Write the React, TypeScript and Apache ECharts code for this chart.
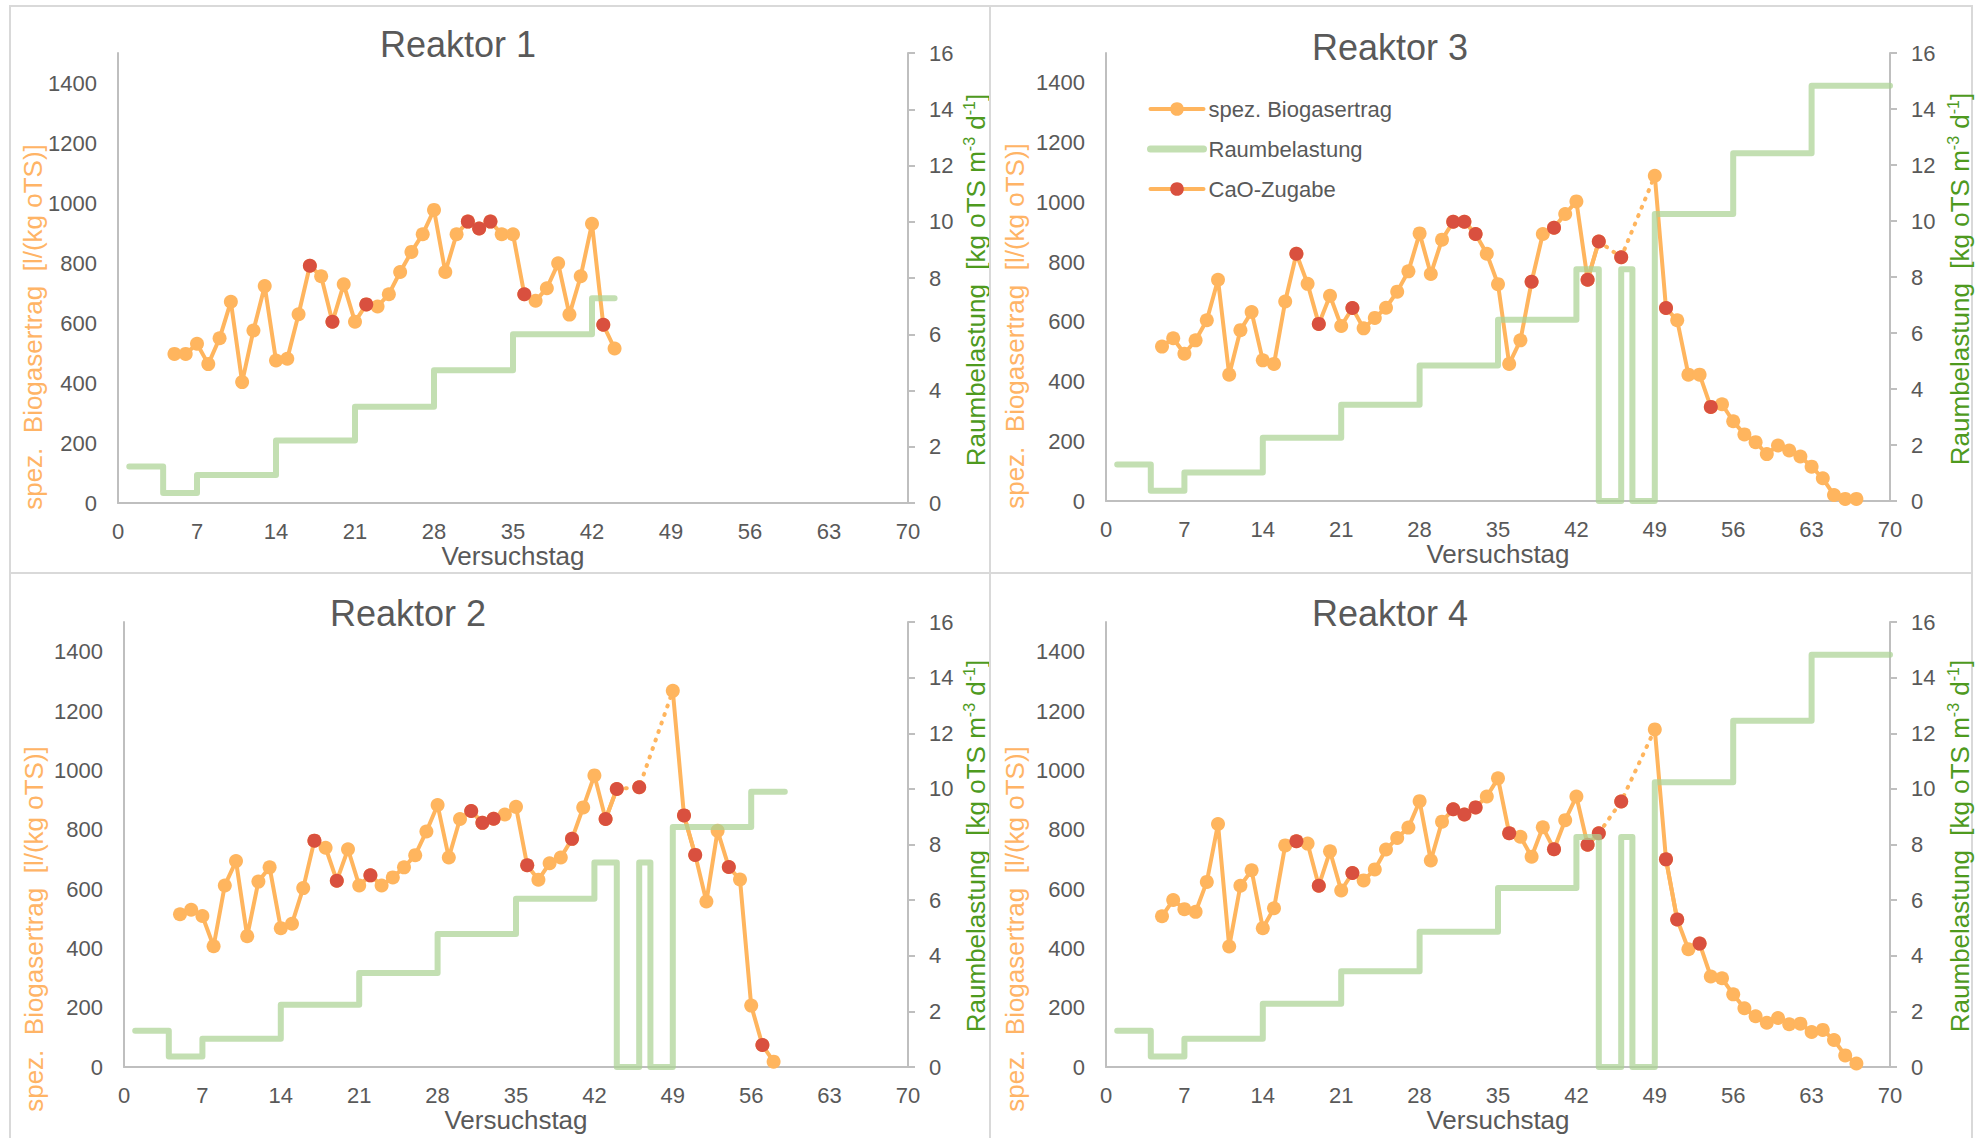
import React, { useEffect, useRef } from "react";
import * as echarts from "echarts";

// ---------------- data ----------------
const FIRST_DAY = 5;
const legendNames = ["spez. Biogasertrag", "Raumbelastung", "CaO-Zugabe"];
const xAxisName = "Versuchstag";
const leftAxisName = "spez.  Biogasertrag  [l/(kg oTS)]";

// spez. Biogasertrag [l/(kg oTS)] from day 5 on (null = no value)
const r1Biogas = [497, 497, 531, 463, 549, 671, 403, 575, 723, 475, 481, 629, 791, 756, 604, 729, 604, 662, 655, 696, 770, 837, 896, 977, 770, 896, 938, 915, 938, 896, 896, 696, 674, 716, 799, 628, 756, 931, 594, 515];
const r2Biogas = [515, 530, 509, 407, 612, 694, 441, 625, 673, 468, 483, 603, 763, 739, 628, 734, 612, 646, 612, 639, 673, 714, 794, 883, 706, 836, 863, 823, 837, 851, 877, 680, 631, 687, 706, 769, 875, 983, 836, 937, null, 943, null, null, 1268, 848, 715, 558, 796, 674, 632, 207, 74, 18];
const r3Biogas = [517, 545, 493, 538, 605, 741, 423, 572, 633, 471, 459, 668, 828, 727, 593, 687, 586, 646, 578, 613, 647, 701, 769, 896, 760, 875, 935, 935, 894, 828, 726, 459, 538, 734, 894, 915, 961, 1003, 741, 869, null, 816, null, null, 1089, 646, 605, 423, 423, 315, 324, 267, 223, 197, 157, 186, 169, 149, 115, 76, 20, 7, 7];
const r4Biogas = [508, 563, 532, 523, 624, 819, 406, 611, 663, 468, 535, 747, 761, 753, 611, 727, 595, 654, 629, 666, 733, 772, 807, 896, 696, 827, 869, 851, 875, 912, 973, 788, 776, 709, 808, 734, 832, 912, 749, 788, null, 895, null, null, 1138, 700, 497, 397, 416, 305, 299, 245, 198, 171, 149, 165, 144, 146, 118, 125, 91, 39, 12];

// days with CaO addition
const r1CaO = [17, 19, 22, 31, 32, 33, 36, 43];
const r2CaO = [17, 19, 22, 31, 32, 33, 36, 40, 43, 44, 46, 50, 51, 54, 57];
const r3CaO = [17, 19, 22, 31, 32, 33, 38, 40, 43, 44, 46, 50, 54];
const r4CaO = [17, 19, 22, 31, 32, 33, 36, 40, 43, 44, 46, 50, 51, 53];

// Raumbelastung [kg oTS m-3 d-1] : change days and levels
const r1LoadDays = [1, 4, 7, 14, 21, 28, 35, 42, 44];
const r1Load = [1.3, 0.36, 1.0, 2.22, 3.42, 4.72, 6.0, 7.28, 7.28];
const r2LoadDays = [1, 4, 7, 14, 21, 28, 35, 42, 44, 46, 47, 49, 56, 59];
const r2Load = [1.3, 0.38, 1.02, 2.24, 3.38, 4.78, 6.05, 7.35, 0, 7.35, 0, 8.63, 9.9, 9.9];
const r3LoadDays = [1, 4, 7, 14, 21, 28, 35, 42, 44, 46, 47, 49, 56, 63, 70];
const r3Load = [1.3, 0.37, 1.02, 2.26, 3.44, 4.84, 6.47, 8.28, 0, 8.28, 0, 10.25, 12.42, 14.83, 14.83];
const r4LoadDays = [1, 4, 7, 14, 21, 28, 35, 42, 44, 46, 47, 49, 56, 63, 70];
const r4Load = [1.3, 0.38, 1.02, 2.27, 3.44, 4.86, 6.44, 8.27, 0, 8.27, 0, 10.24, 12.45, 14.82, 14.82];

const reactors = [
  { title: "Reaktor 1", biogas: r1Biogas, cao: r1CaO, loadDays: r1LoadDays, load: r1Load },
  { title: "Reaktor 3", biogas: r3Biogas, cao: r3CaO, loadDays: r3LoadDays, load: r3Load },
  { title: "Reaktor 2", biogas: r2Biogas, cao: r2CaO, loadDays: r2LoadDays, load: r2Load },
  { title: "Reaktor 4", biogas: r4Biogas, cao: r4CaO, loadDays: r4LoadDays, load: r4Load },
];

// ---------------- layout / style ----------------
const FONT = "'Liberation Sans', Arial, sans-serif";
const TEXT = "#595959";
const ORANGE = "#ffb55e";
const ORANGE_TEXT = "#ffb466";
const RED = "#d9503f";
const GREEN = "rgba(172,211,148,0.72)";
const GREEN_TEXT = "#4e9a1e";
const AXIS = "#bfbfbf";
const BORDER = "#d9d9d9";

const panels = [
  { grid: { left: 118, top: 53, width: 790, height: 450 }, title: [458, 44], leftName: [33, 327], rightName: [976, 280], box: [10, 6, 980, 567] },
  { grid: { left: 1106, top: 53, width: 784, height: 448 }, title: [1390, 47], leftName: [1015, 326], rightName: [1960, 279], box: [990, 6, 982, 567] },
  { grid: { left: 124, top: 622, width: 784, height: 445 }, title: [408, 613], leftName: [34, 929], rightName: [976, 846], box: [10, 573, 980, 580] },
  { grid: { left: 1106, top: 622, width: 784, height: 445 }, title: [1390, 613], leftName: [1015, 929], rightName: [1960, 846], box: [990, 573, 982, 580] },
];

function bridgeData(values: (number | null)[]) {
  const pts: any[] = [];
  for (let k = 1; k < values.length; k++) {
    if (values[k] === null && values[k - 1] !== null) {
      let j = k;
      while (j < values.length && values[j] === null) j++;
      if (j >= values.length) break;
      const start = [FIRST_DAY + k - 1, values[k - 1]];
      const end = [FIRST_DAY + j, values[j]];
      const last = pts[pts.length - 1];
      if (!last || last[0] !== start[0]) pts.push(start);
      pts.push(end);
    }
  }
  return pts;
}

function buildOption() {
  const grid: any[] = [];
  const xAxis: any[] = [];
  const yAxis: any[] = [];
  const series: any[] = [];
  const graphic: any[] = [];

  reactors.forEach((r, i) => {
    const p = panels[i];
    grid.push({ ...p.grid, containLabel: false });
    xAxis.push({
      gridIndex: i,
      type: "value",
      min: 0,
      max: 70,
      interval: 7,
      axisLine: { show: true, lineStyle: { color: AXIS, width: 2 } },
      axisTick: { show: false },
      splitLine: { show: false },
      axisLabel: { fontSize: 22, color: TEXT, fontFamily: FONT, margin: 17 },
      name: xAxisName,
      nameLocation: "middle",
      nameGap: 40,
      nameTextStyle: { fontSize: 26, color: TEXT, fontFamily: FONT },
    });
    yAxis.push({
      gridIndex: i,
      type: "value",
      position: "left",
      min: 0,
      max: 1500,
      interval: 200,
      axisLine: { show: true, lineStyle: { color: AXIS, width: 2 } },
      axisTick: { show: false },
      splitLine: { show: false },
      axisLabel: {
        fontSize: 22,
        color: TEXT,
        fontFamily: FONT,
        margin: 21,
        formatter: (v: number) => (v >= 1500 ? "" : String(v)),
      },
    });
    yAxis.push({
      gridIndex: i,
      type: "value",
      position: "right",
      min: 0,
      max: 16,
      interval: 2,
      axisLine: { show: true, lineStyle: { color: AXIS, width: 2 } },
      axisTick: { show: true, length: 7, lineStyle: { color: AXIS, width: 2 } },
      splitLine: { show: false },
      axisLabel: { fontSize: 22, color: TEXT, fontFamily: FONT, margin: 21 },
    });

    const mainData = r.biogas.map((v, k) => [FIRST_DAY + k, v === null ? "-" : v]);
    const caoData = r.biogas.map((v, k) => {
      const d = FIRST_DAY + k;
      return [d, v !== null && r.cao.includes(d) ? v : "-"];
    });
    const bridge = bridgeData(r.biogas);
    const loadData = r.loadDays.map((d, k) => [d, r.load[k]]);

    if (bridge.length) {
      series.push({
        type: "line",
        name: "Lücke",
        xAxisIndex: i,
        yAxisIndex: 2 * i,
        data: bridge,
        symbol: "none",
        lineStyle: { color: ORANGE, width: 4, type: [1, 8], cap: "round" },
        z: 1,
        silent: true,
      });
    }
    series.push({
      type: "line",
      name: legendNames[0],
      xAxisIndex: i,
      yAxisIndex: 2 * i,
      data: mainData,
      connectNulls: false,
      symbol: "circle",
      symbolSize: 14,
      itemStyle: { color: ORANGE },
      lineStyle: { color: ORANGE, width: 4, cap: "round", join: "round" },
      z: 2,
    });
    series.push({
      type: "line",
      name: legendNames[2],
      xAxisIndex: i,
      yAxisIndex: 2 * i,
      data: caoData,
      connectNulls: false,
      symbol: "circle",
      symbolSize: 14,
      itemStyle: { color: RED },
      lineStyle: { color: ORANGE, width: 4, cap: "round", join: "round" },
      z: 3,
    });
    series.push({
      type: "line",
      name: legendNames[1],
      xAxisIndex: i,
      yAxisIndex: 2 * i + 1,
      data: loadData,
      step: "end",
      symbol: "none",
      lineStyle: { color: GREEN, width: 6, cap: "round", join: "round" },
      itemStyle: { color: GREEN },
      z: 4,
    });

    const [bx, by, bw, bh] = p.box;
    graphic.push({
      type: "rect",
      silent: true,
      shape: { x: bx, y: by, width: bw, height: bh },
      style: { fill: "none", stroke: BORDER, lineWidth: 2 },
    });
    graphic.push({
      type: "text",
      silent: true,
      x: p.title[0],
      y: p.title[1],
      style: {
        text: r.title,
        fontSize: 36,
        fontFamily: FONT,
        fill: TEXT,
        align: "center",
        textAlign: "center",
        verticalAlign: "middle",
        textVerticalAlign: "middle",
      },
    });
    graphic.push({
      type: "text",
      silent: true,
      x: p.leftName[0],
      y: p.leftName[1],
      rotation: Math.PI / 2,
      style: {
        text: leftAxisName,
        fontSize: 26,
        fontFamily: FONT,
        fill: ORANGE_TEXT,
        align: "center",
        textAlign: "center",
        verticalAlign: "middle",
        textVerticalAlign: "middle",
      },
    });
    graphic.push({
      type: "text",
      silent: true,
      x: p.rightName[0],
      y: p.rightName[1],
      rotation: Math.PI / 2,
      style: {
        text: "{n|Raumbelastung  [kg oTS m}{s|-3}{n| d}{s|-1}{n|]}",
        align: "center",
        textAlign: "center",
        verticalAlign: "middle",
        textVerticalAlign: "middle",
        fill: GREEN_TEXT,
        fontSize: 26,
        fontFamily: FONT,
        rich: {
          n: { fontSize: 26, fontFamily: FONT, fill: GREEN_TEXT, color: GREEN_TEXT, lineHeight: 30 },
          s: { fontSize: 16, fontFamily: FONT, fill: GREEN_TEXT, color: GREEN_TEXT, verticalAlign: "top", lineHeight: 30 },
        },
      },
    });
  });

  return {
    animation: false,
    backgroundColor: "#ffffff",
    textStyle: { fontFamily: FONT },
    grid,
    xAxis,
    yAxis,
    series,
    graphic,
    legend: {
      data: [
        { name: legendNames[0], lineStyle: { width: 4, color: ORANGE } },
        { name: legendNames[1], itemStyle: { opacity: 0 }, lineStyle: { width: 7, color: GREEN, cap: "round" } },
        { name: legendNames[2], lineStyle: { width: 4, color: ORANGE } },
      ],
      orient: "vertical",
      left: 1147,
      top: 98,
      padding: 0,
      itemWidth: 53,
      itemHeight: 17,
      itemGap: 18,
      textStyle: { fontSize: 22, color: TEXT, fontFamily: FONT },
      selectedMode: false,
    },
  };
}

export default function App() {
  const ref = useRef<HTMLDivElement>(null);
  useEffect(() => {
    if (!ref.current) return;
    const chart = echarts.init(ref.current, null, { renderer: "svg" });
    chart.setOption(buildOption() as any);
    return () => chart.dispose();
  }, []);
  return (
    <div
      ref={ref}
      style={{ position: "absolute", left: 0, top: 0, width: 1982, height: 1138, background: "#fff" }}
    />
  );
}
